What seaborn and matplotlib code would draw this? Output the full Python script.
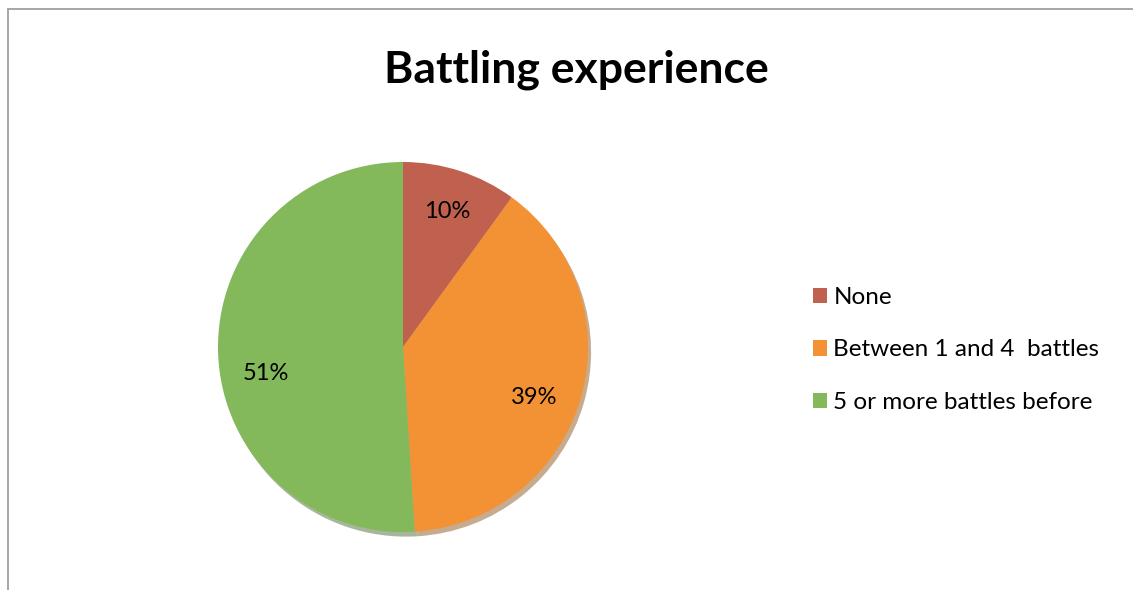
import matplotlib
matplotlib.use("Agg")
import matplotlib.pyplot as plt
from matplotlib.lines import Line2D
from matplotlib.patches import Patch
import seaborn as sns

# data
categories = ["None", "Between 1 and 4  battles", "5 or more battles before"]
shares = [10, 39, 51]
colors = ["#C0604F", "#F29234", "#83B95A"]
title = "Battling experience"

sns.set_theme(style="white")
plt.rcParams["font.family"] = ["Lato", "DejaVu Sans"]
plt.rcParams["text.color"] = "black"

W, H = 1133, 590
fig = plt.figure(figsize=(W / 100, H / 100), dpi=100)
fig.patch.set_facecolor("white")

# pie centre and radius in pixels
cx, cy, r = 403, H - 347, 185
side = 2.5 * r
ax = fig.add_axes([(cx - side / 2) / W, (cy - side / 2) / H, side / W, side / H])
wedges, texts, autotexts = ax.pie(
    shares, colors=colors, startangle=90, counterclock=False,
    autopct="%d%%", pctdistance=0.77,
    shadow={"ox": 0.012, "oy": -0.018, "shade": 0.4},
    wedgeprops={"linewidth": 0},
    textprops={"fontsize": 17, "color": "black"},
)
# Excel puts the lower labels a little further down
x39, y39 = autotexts[1].get_position()
autotexts[1].set_position((x39 - 0.03, y39 - 0.06))
x51, y51 = autotexts[2].get_position()
autotexts[2].set_position((x51 + 0.03, y51 - 0.12))
ax.set_xlim(-1.25, 1.25)
ax.set_ylim(-1.25, 1.25)
ax.set_aspect("equal")
ax.axis("off")

fig.text(576 / W, 1 - 70 / H, title, ha="center", va="center",
         fontsize=32, fontweight="bold", color="black")

handles = [Patch(facecolor=c, edgecolor="none") for c in colors]
fig.legend(handles, categories, loc="center left",
           bbox_to_anchor=(803 / W, 1 - 350 / H), frameon=False,
           fontsize=17.5, handlelength=0.6, handleheight=0.6,
           handletextpad=0.25, labelspacing=1.3, borderaxespad=0,
           labelcolor="black")

# chart-area frame (only top and left edges visible)
fig.add_artist(Line2D([7.5 / W, 1], [1 - 9 / H, 1 - 9 / H], color="#A6A6A6", lw=1.4))
fig.add_artist(Line2D([7.5 / W, 7.5 / W], [0, 1 - 9 / H], color="#A6A6A6", lw=1.4))

fig.savefig("out.png", dpi=100)
